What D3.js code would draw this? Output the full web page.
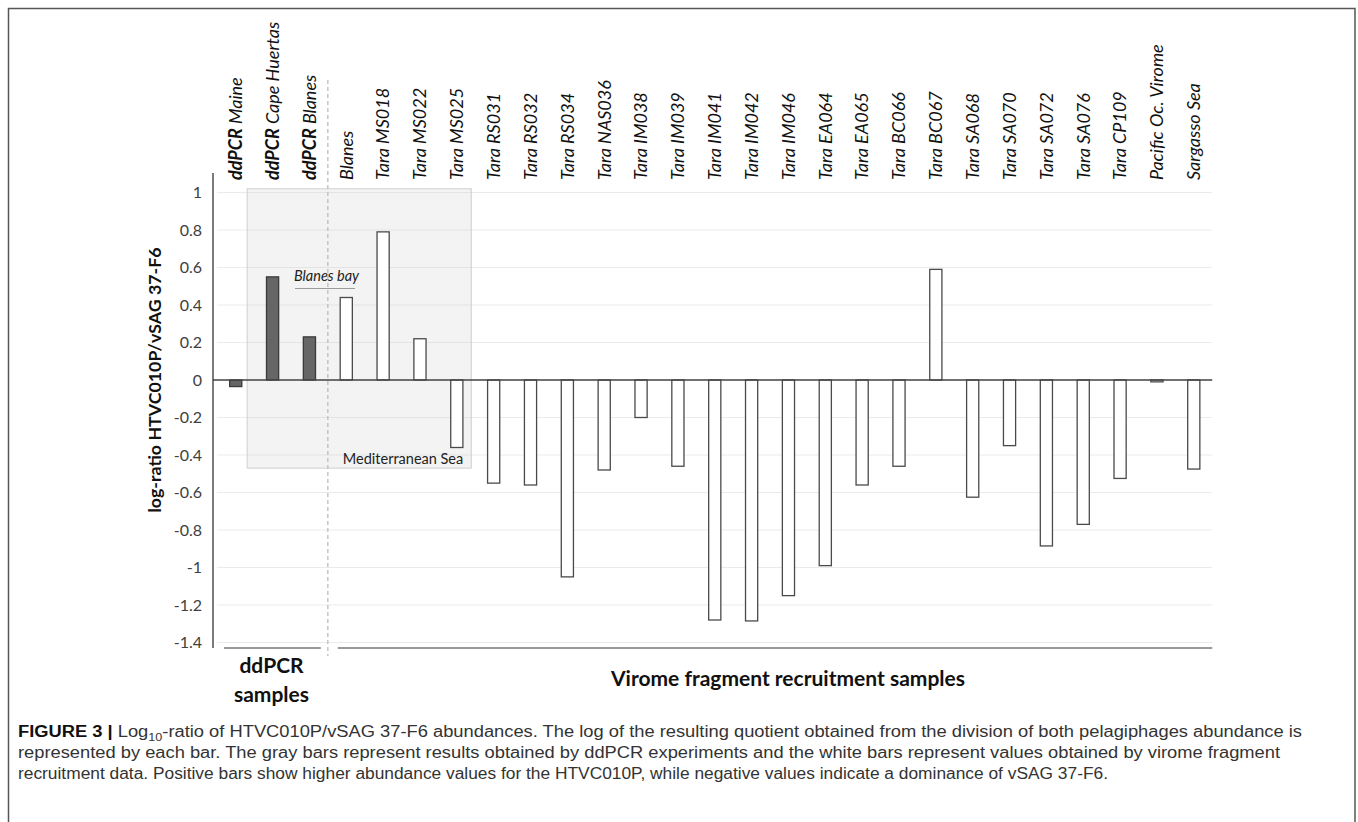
<!DOCTYPE html>
<html>
<head>
<meta charset="utf-8">
<script src="https://cdn.jsdelivr.net/npm/d3@7"></script>
<style>
  body { margin: 0; background: #fff; }
  svg { display: block; }
  .tick text { font-family: Lato, "Open Sans", sans-serif; font-size: 16px; fill: #404040; }
  .catLabel { font-family: Lato, sans-serif; font-size: 18px; font-style: italic; fill: #111; }
  .note { font-family: Lato, sans-serif; font-size: 14.5px; fill: #222; }
  .groupTitle { font-family: Lato, sans-serif; font-size: 21px; font-weight: bold; fill: #111; }
  .caption { font-family: "Liberation Sans Narrow", "Arial Narrow", "Liberation Sans", sans-serif; font-size: 16px; fill: #333; }
</style>
</head>
<body>
<script>
(function(){

    //sample names, in chart order
    var categories = ["ddPCR Maine", "ddPCR Cape Huertas", "ddPCR Blanes", "Blanes",
        "Tara MS018", "Tara MS022", "Tara MS025", "Tara RS031", "Tara RS032", "Tara RS034",
        "Tara NAS036", "Tara IM038", "Tara IM039", "Tara IM041", "Tara IM042", "Tara IM046",
        "Tara EA064", "Tara EA065", "Tara BC066", "Tara BC067", "Tara SA068", "Tara SA070",
        "Tara SA072", "Tara SA076", "Tara CP109", "Pacific Oc. Virome", "Sargasso Sea"];

    //log10 ratio HTVC010P / vSAG 37-F6
    var logRatios = [-0.035, 0.55, 0.23, 0.44,
        0.79, 0.22, -0.36, -0.55, -0.56, -1.05,
        -0.48, -0.20, -0.46, -1.28, -1.285, -1.15,
        -0.99, -0.56, -0.46, 0.59, -0.625, -0.35,
        -0.885, -0.77, -0.525, -0.01, -0.475];

    //how each value was obtained (gray = ddPCR, white = virome)
    var methods = ["ddPCR", "ddPCR", "ddPCR", "virome",
        "virome", "virome", "virome", "virome", "virome", "virome",
        "virome", "virome", "virome", "virome", "virome", "virome",
        "virome", "virome", "virome", "virome", "virome", "virome",
        "virome", "virome", "virome", "virome", "virome"];

    var yTicks = [1, 0.8, 0.6, 0.4, 0.2, 0, -0.2, -0.4, -0.6, -0.8, -1, -1.2, -1.4];

    var captionLines = [
        "Log10-ratio of HTVC010P/vSAG 37-F6 abundances. The log of the resulting quotient obtained from the division of both pelagiphages abundance is",
        "represented by each bar. The gray bars represent results obtained by ddPCR experiments and the white bars represent values obtained by virome fragment",
        "recruitment data. Positive bars show higher abundance values for the HTVC010P, while negative values indicate a dominance of vSAG 37-F6."
    ];

    var data = categories.map(function(c, i){
        return {name: c, value: logRatios[i], method: methods[i]};
    });

    var width = 1358, height = 822;
    var axisX = 213, plotLeft = 217.3, plotRight = 1212.2;

    var svg = d3.select("body").append("svg")
        .attr("width", width)
        .attr("height", height);

    //figure frame
    svg.append("rect")
        .attr("x", 8.5).attr("y", 8.5)
        .attr("width", 1346.5).attr("height", 840)
        .attr("fill", "none")
        .attr("stroke", "#555")
        .attr("stroke-width", 1.5);

    var x = d3.scaleBand()
        .domain(categories)
        .range([plotLeft, plotRight]);

    var y = d3.scaleLinear()
        .domain([-1.4, 1])
        .range([642.5, 192.5]);

    //gridlines
    svg.selectAll(".grid")
        .data(yTicks)
        .enter()
        .append("line")
        .attr("class", "grid")
        .attr("x1", plotLeft).attr("x2", plotRight)
        .attr("y1", function(d){ return y(d); })
        .attr("y2", function(d){ return y(d); })
        .attr("stroke", "#ebebeb")
        .attr("stroke-width", 1);

    //Mediterranean Sea box
    var boxLeft = x(categories[1]) - 7,
        boxRight = x(categories[6]) + x.bandwidth() - 4;
    svg.append("rect")
        .attr("x", boxLeft)
        .attr("y", y(1.02))
        .attr("width", boxRight - boxLeft)
        .attr("height", y(-0.47) - y(1.02))
        .attr("fill", "rgba(200,200,200,0.22)")
        .attr("stroke", "#cfcfcf")
        .attr("stroke-width", 1);

    //ddPCR / virome separator
    var sepX = x(categories[3]);
    svg.append("line")
        .attr("x1", sepX).attr("x2", sepX)
        .attr("y1", 80).attr("y2", 656)
        .attr("stroke", "#bdbdbd")
        .attr("stroke-width", 1.3)
        .attr("stroke-dasharray", "4,3");

    //bars
    var barW = x.bandwidth() * 0.33;
    svg.selectAll(".bar")
        .data(data)
        .enter()
        .append("rect")
        .attr("class", "bar")
        .attr("x", function(d){ return x(d.name) + x.bandwidth() / 2 - barW / 2; })
        .attr("width", barW)
        .attr("y", function(d){ return y(Math.max(0, d.value)); })
        .attr("height", function(d){ return Math.abs(y(d.value) - y(0)); })
        .attr("fill", function(d){ return d.method == "ddPCR" ? "#666666" : "#ffffff"; })
        .attr("stroke", function(d){ return d.method == "ddPCR" ? "#3a3a3a" : "#4a4a4a"; })
        .attr("stroke-width", 1.3);

    //zero line
    svg.append("line")
        .attr("x1", axisX).attr("x2", plotRight)
        .attr("y1", y(0)).attr("y2", y(0))
        .attr("stroke", "#444")
        .attr("stroke-width", 1.3);

    //y axis
    var yAxis = d3.axisLeft(y)
        .tickValues(yTicks)
        .tickSize(0)
        .tickPadding(11)
        .tickFormat(function(d){ return String(+d.toFixed(1)); });

    var axis = svg.append("g")
        .attr("transform", "translate(" + axisX + ",0)")
        .call(yAxis);
    axis.select(".domain").remove();

    svg.append("line")
        .attr("x1", axisX).attr("x2", axisX)
        .attr("y1", 173).attr("y2", 648)
        .attr("stroke", "#222")
        .attr("stroke-width", 1.2);

    //group underlines
    svg.append("line")
        .attr("x1", 224).attr("x2", sepX - 7)
        .attr("y1", 648).attr("y2", 648)
        .attr("stroke", "#777").attr("stroke-width", 1.5);
    svg.append("line")
        .attr("x1", sepX + 10).attr("x2", plotRight)
        .attr("y1", 648).attr("y2", 648)
        .attr("stroke", "#777").attr("stroke-width", 1.5);

    //category labels
    var labels = svg.selectAll(".catLabel")
        .data(data)
        .enter()
        .append("text")
        .attr("class", "catLabel")
        .attr("transform", function(d){
            return "translate(" + (x(d.name) + x.bandwidth() / 2) + ",180) rotate(-90)";
        })
        .attr("dy", "0.35em")
        .attr("text-anchor", "start");

    labels.each(function(d){
        var t = d3.select(this);
        if (d.name.indexOf("ddPCR ") == 0){
            t.append("tspan").attr("font-weight", "bold").text("ddPCR");
            t.append("tspan").text(" " + d.name.slice(6));
        } else {
            t.text(d.name);
        }
    });

    //y axis title
    svg.append("text")
        .attr("transform", "translate(155," + y(0) + ") rotate(-90)")
        .attr("dy", "0.35em")
        .attr("text-anchor", "middle")
        .attr("font-family", "Lato, sans-serif")
        .attr("font-size", 17.8)
        .attr("font-weight", "bold")
        .attr("fill", "#111")
        .text("log-ratio HTVC010P/vSAG 37-F6");

    //annotations
    svg.append("text")
        .attr("class", "note")
        .attr("x", 326.5).attr("y", 281)
        .attr("text-anchor", "middle")
        .attr("font-style", "italic")
        .text("Blanes bay");
    svg.append("line")
        .attr("x1", 295).attr("x2", 355)
        .attr("y1", 288.5).attr("y2", 288.5)
        .attr("stroke", "#9a9a9a").attr("stroke-width", 1.2);

    svg.append("text")
        .attr("class", "note")
        .attr("x", boxRight - 8).attr("y", 463.5)
        .attr("text-anchor", "end")
        .text("Mediterranean Sea");

    //group titles
    var g1 = svg.append("text")
        .attr("class", "groupTitle")
        .attr("x", 271.5).attr("y", 673)
        .attr("text-anchor", "middle");
    g1.append("tspan").attr("x", 271.5).text("ddPCR");
    g1.append("tspan").attr("x", 271.5).attr("dy", 29).text("samples");

    svg.append("text")
        .attr("class", "groupTitle")
        .attr("x", 788).attr("y", 686)
        .attr("text-anchor", "middle")
        .text("Virome fragment recruitment samples");

    //caption
    var capLengths = [1284, 1262, 1090];
    captionLines.forEach(function(line, i){
        var t = svg.append("text")
            .attr("class", "caption")
            .attr("x", 18)
            .attr("y", 737 + i * 21)
            .attr("textLength", capLengths[i])
            .attr("lengthAdjust", "spacingAndGlyphs");
        if (i == 0){
            t.append("tspan").attr("font-weight", "bold").attr("fill", "#111").text("FIGURE 3 | ");
            t.append("tspan").text("Log");
            t.append("tspan").attr("font-size", 11).attr("dy", 4).text("10");
            t.append("tspan").attr("dy", -4).text(line.slice(5));
        } else {
            t.text(line);
        }
    });

})();
</script>
</body>
</html>
